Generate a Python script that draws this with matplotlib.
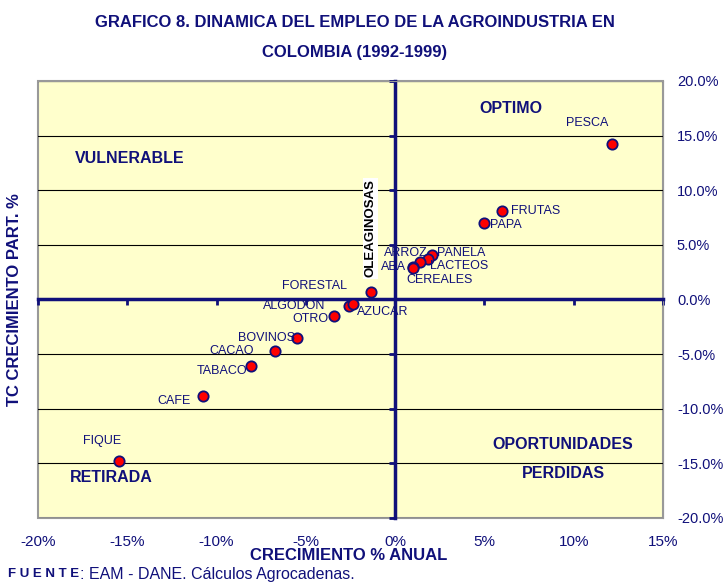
import matplotlib.pyplot as plt
from matplotlib.patches import Rectangle
from matplotlib.ticker import FuncFormatter

# data (% growth)
sectors = ['PESCA', 'FRUTAS', 'PAPA', 'PANELA', 'ARROZ', 'LACTEOS', 'ABA', 'CEREALES',
           'FORESTAL', 'ALGODON', 'AZUCAR', 'OTRO', 'BOVINOS', 'CACAO', 'TABACO', 'CAFE', 'FIQUE']
growth = [12.16, 6.0, 4.99, 2.06, 1.85, 1.38, 0.99, 1.0,
          -1.33, -2.56, -2.37, -3.42, -5.51, -6.72, -8.08, -10.74, -15.46]
share_growth = [14.2, 8.06, 6.96, 4.09, 3.73, 3.42, 2.93, 2.9,
                0.64, -0.58, -0.46, -1.53, -3.51, -4.76, -6.1, -8.88, -14.74]

x_ticks = [-20, -15, -10, -5, 0, 5, 10, 15]
y_ticks = [-20, -15, -10, -5, 0, 5, 10, 15, 20]

# label placement (pixel offsets, alignment)
label_pos = {
    'PESCA': (-4, 21, 'right'), 'FRUTAS': (9, 0, 'left'), 'PAPA': (6, -2, 'left'),
    'PANELA': (5, 2, 'left'), 'ARROZ': (0, 6, 'right'), 'LACTEOS': (10, -4, 'left'),
    'ABA': (-7, 0, 'right'), 'CEREALES': (-7, -12, 'left'), 'FORESTAL': (-24, 6, 'right'),
    'ALGODON': (-24, 0, 'right'), 'AZUCAR': (4, -8, 'left'), 'OTRO': (-6, -3, 'right'),
    'BOVINOS': (-2, 0, 'right'), 'CACAO': (-21, 0, 'right'), 'TABACO': (-4, -5, 'right'),
    'CAFE': (-13, -5, 'right'), 'FIQUE': (-17, 20, 'center'),
}

NAVY = '#10107a'
plt.rcParams['font.family'] = ['Liberation Sans', 'DejaVu Sans']

fig = plt.figure(figsize=(7.27, 5.82), dpi=100)
ax = fig.add_axes([0.0523, 0.110, 0.8597, 0.751])
ax.set_facecolor('#ffffcc')
ax.set_xlim(-20, 15)
ax.set_ylim(-20, 20)

# grid lines
ax.set_yticks(y_ticks)
ax.set_xticks(x_ticks)
ax.yaxis.grid(True, color='black', lw=0.8)
ax.set_axisbelow(True)

# axes through origin
for side in ['top', 'right']:
    ax.spines[side].set_color('#999999')
ax.spines['left'].set_position(('data', 0))
ax.spines['bottom'].set_position(('data', 0))
ax.spines['left'].set_color(NAVY)
ax.spines['bottom'].set_color(NAVY)
ax.spines['left'].set_linewidth(2.5)
ax.spines['bottom'].set_linewidth(2.5)
ax.tick_params(labelleft=False, labelbottom=False, color=NAVY, width=2, length=4, direction='out')
ax.add_patch(Rectangle((0, 0), 1, 1, transform=ax.transAxes, fill=False,
                       edgecolor='#999999', lw=1.5, zorder=0.5, clip_on=False))

# tick labels outside frame
sy = ax.secondary_yaxis('right')
sy.set_yticks(y_ticks)
sy.yaxis.set_major_formatter(FuncFormatter(lambda v, p: f'{v:.1f}%'))
sy.tick_params(length=0, labelsize=10.5, labelcolor=NAVY, pad=10)
sy.spines['right'].set_visible(False)
sx = ax.secondary_xaxis('bottom')
sx.set_xticks(x_ticks)
sx.xaxis.set_major_formatter(FuncFormatter(lambda v, p: f'{v:.0f}%'))
sx.tick_params(length=0, labelsize=11, labelcolor=NAVY, pad=12)
sx.spines['bottom'].set_visible(False)

ax.scatter(growth, share_growth, s=55, color='red', edgecolor=NAVY, linewidth=1.3, zorder=5)
for name, x, y in zip(sectors, growth, share_growth):
    dx, dy, ha = label_pos[name]
    ax.annotate(name, (x, y), xytext=(dx, dy), textcoords='offset pixels',
                ha=ha, va='center', fontsize=9, color=NAVY, zorder=6)

ax.text(-1.4, 6.5, 'OLEAGINOSAS', rotation=90, ha='center', va='center', fontsize=9.5,
        color='black', fontweight='bold', bbox=dict(facecolor='white', edgecolor='none', pad=1), zorder=6)

# quadrant labels
quad = dict(color=NAVY, fontweight='bold', fontsize=11.5, ha='center', va='center')
ax.text(-14.85, 12.9, 'VULNERABLE', **quad)
ax.text(6.5, 17.5, 'OPTIMO', **quad)
ax.text(9.4, -13.3, 'OPORTUNIDADES', **quad)
ax.text(9.4, -15.9, 'PERDIDAS', **quad)
ax.text(-15.9, -16.3, 'RETIRADA', **quad)

fig.text(0.488, 0.962, 'GRAFICO 8. DINAMICA DEL EMPLEO DE LA AGROINDUSTRIA EN', ha='center', va='center',
         fontsize=12, fontweight='bold', color=NAVY)
fig.text(0.488, 0.910, 'COLOMBIA (1992-1999)', ha='center', va='center',
         fontsize=12, fontweight='bold', color=NAVY)
fig.text(0.479, 0.046, 'CRECIMIENTO % ANUAL', ha='center', va='center',
         fontsize=12, fontweight='bold', color=NAVY)
fig.text(0.020, 0.485, 'TC CRECIMIENTO PART. %', ha='center', va='center', rotation=90,
         fontsize=12, fontweight='bold', color=NAVY)
fig.text(0.011, 0.013, 'F U E N T E', ha='left', va='center', fontsize=9.5, fontweight='bold', color=NAVY)
fig.text(0.110, 0.013, ': EAM - DANE. Cálculos Agrocadenas.', ha='left', va='center', fontsize=11.5, color=NAVY)

fig.savefig('out.png', dpi=100)
